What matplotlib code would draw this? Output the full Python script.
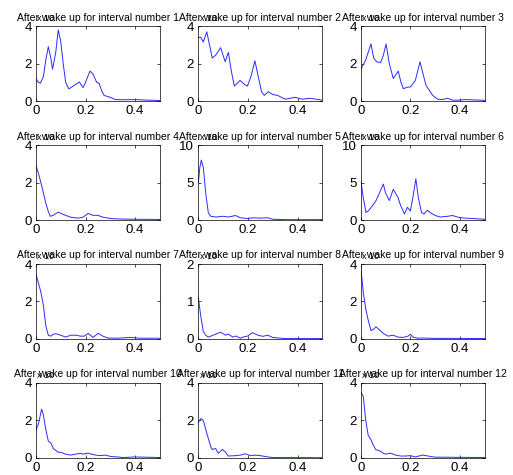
import matplotlib
matplotlib.use("Agg")
import matplotlib.pyplot as plt

# ==========================================
# Data (values in units of the "x 10" scale)
# ==========================================

p1_x = [0, 0.01, 0.018, 0.03, 0.04, 0.05, 0.06, 0.067, 0.08, 0.09, 0.10, 0.11, 0.12, 0.133, 0.15, 0.175, 0.19, 0.20, 0.218, 0.23,
        0.245, 0.255, 0.265, 0.275, 0.30, 0.32, 0.35, 0.40, 0.45, 0.50]
p1_y = [1.2, 1.0, 0.95, 1.3, 2.2, 2.9, 2.3, 1.7, 2.6, 3.8, 3.2, 2.0, 1.0, 0.65, 0.8, 1.02, 0.72, 1.0, 1.6, 1.45,
        1.0, 0.95, 0.55, 0.3, 0.2, 0.08, 0.07, 0.08, 0.05, 0.03]

p2_x = [0, 0.01, 0.02, 0.034, 0.045, 0.056, 0.07, 0.09, 0.108, 0.121, 0.133, 0.145, 0.168, 0.185, 0.198, 0.212, 0.228, 0.24, 0.255, 0.266,
        0.282, 0.30, 0.32, 0.35, 0.39, 0.42, 0.45, 0.50]
p2_y = [3.4, 3.4, 3.15, 3.7, 3.0, 2.3, 2.45, 2.85, 2.1, 2.6, 1.6, 0.8, 1.1, 0.9, 0.8, 1.3, 2.15, 1.4, 0.5, 0.3,
        0.5, 0.35, 0.3, 0.1, 0.2, 0.1, 0.15, 0.05]

p3_x = [0, 0.02, 0.03, 0.041, 0.052, 0.064, 0.08, 0.09, 0.102, 0.115, 0.131, 0.151, 0.162, 0.172, 0.19, 0.20, 0.22, 0.239, 0.25, 0.263,
        0.275, 0.29, 0.31, 0.33, 0.35, 0.37, 0.40, 0.42, 0.50]
p3_y = [1.7, 2.2, 2.6, 3.05, 2.3, 2.1, 2.05, 2.4, 3.05, 2.0, 1.2, 1.6, 1.0, 0.66, 0.75, 0.75, 1.1, 2.1, 1.5, 0.84,
        0.6, 0.3, 0.1, 0.08, 0.15, 0.05, 0.05, 0.08, 0.04]

p4_x = [0, 0.01, 0.02, 0.03, 0.04, 0.05, 0.058, 0.07, 0.09, 0.11, 0.14, 0.17, 0.19, 0.21, 0.23, 0.25, 0.27, 0.30, 0.35, 0.40, 0.50]
p4_y = [2.9, 2.5, 2.0, 1.46, 0.9, 0.45, 0.2, 0.25, 0.42, 0.3, 0.15, 0.1, 0.15, 0.35, 0.25, 0.25, 0.15, 0.08, 0.05, 0.04, 0.03]

p5_x = [0, 0.006, 0.012, 0.02, 0.03, 0.04, 0.05, 0.07, 0.10, 0.12, 0.15, 0.17, 0.20, 0.22, 0.25, 0.28, 0.30, 0.35, 0.50]
p5_y = [5.0, 7.0, 8.0, 7.0, 3.5, 1.0, 0.5, 0.4, 0.5, 0.4, 0.6, 0.3, 0.2, 0.3, 0.25, 0.3, 0.1, 0.05, 0.05]

p6_x = [0, 0.01, 0.021, 0.03, 0.04, 0.06, 0.07, 0.091, 0.10, 0.115, 0.131, 0.15, 0.16, 0.176, 0.188, 0.20, 0.21, 0.222, 0.232, 0.245,
        0.255, 0.268, 0.28, 0.30, 0.32, 0.35, 0.37, 0.40, 0.45, 0.50]
p6_y = [5.3, 3.0, 1.0, 1.2, 1.6, 2.5, 3.2, 4.8, 3.6, 2.6, 4.1, 3.0, 2.0, 0.8, 1.7, 1.2, 3.0, 5.5, 3.0, 1.0,
        0.8, 1.3, 1.0, 0.6, 0.4, 0.5, 0.6, 0.3, 0.2, 0.1]

p7_x = [0, 0.01, 0.02, 0.03, 0.04, 0.05, 0.06, 0.07, 0.08, 0.10, 0.12, 0.14, 0.16, 0.18, 0.195, 0.211, 0.23, 0.251, 0.27, 0.29,
        0.33, 0.38, 0.42, 0.50]
p7_y = [3.45, 3.0, 2.5, 1.8, 0.7, 0.2, 0.15, 0.25, 0.28, 0.2, 0.1, 0.2, 0.2, 0.15, 0.15, 0.3, 0.08, 0.3, 0.15, 0.05,
        0.04, 0.08, 0.04, 0.04]

p8_x = [0, 0.01, 0.02, 0.03, 0.04, 0.06, 0.07, 0.09, 0.11, 0.12, 0.14, 0.15, 0.17, 0.18, 0.20, 0.218, 0.24, 0.26, 0.28, 0.30, 0.35, 0.50]
p8_y = [1.1, 0.6, 0.2, 0.1, 0.05, 0.1, 0.13, 0.18, 0.1, 0.13, 0.05, 0.08, 0.02, 0.05, 0.08, 0.17, 0.1, 0.07, 0.1, 0.04, 0.01, 0.01]

p9_x = [0, 0.01, 0.02, 0.03, 0.041, 0.05, 0.061, 0.07, 0.09, 0.11, 0.13, 0.15, 0.17, 0.19, 0.20, 0.21, 0.23, 0.25, 0.30, 0.40, 0.50]
p9_y = [3.8, 2.5, 1.6, 1.0, 0.45, 0.5, 0.65, 0.55, 0.3, 0.15, 0.2, 0.1, 0.08, 0.15, 0.25, 0.1, 0.04, 0.05, 0.03, 0.03, 0.02]

p10_x = [0, 0.01, 0.023, 0.03, 0.04, 0.05, 0.06, 0.07, 0.09, 0.10, 0.12, 0.14, 0.16, 0.18, 0.19, 0.21, 0.24, 0.26, 0.28, 0.30,
         0.33, 0.35, 0.40, 0.50]
p10_y = [1.5, 1.8, 2.6, 2.3, 1.5, 0.9, 0.8, 0.5, 0.3, 0.3, 0.2, 0.15, 0.2, 0.25, 0.2, 0.25, 0.15, 0.12, 0.15, 0.08,
         0.05, 0.02, 0.05, 0.02]

p11_x = [0, 0.01, 0.02, 0.03, 0.05, 0.056, 0.07, 0.08, 0.097, 0.11, 0.12, 0.15, 0.17, 0.19, 0.21, 0.23, 0.25, 0.28, 0.30, 0.50]
p11_y = [1.9, 2.1, 2.0, 1.5, 0.6, 0.45, 0.5, 0.25, 0.45, 0.3, 0.1, 0.12, 0.15, 0.22, 0.12, 0.15, 0.12, 0.05, 0.02, 0.01]

p12_x = [0, 0.01, 0.02, 0.03, 0.04, 0.05, 0.06, 0.07, 0.08, 0.09, 0.10, 0.12, 0.14, 0.16, 0.18, 0.20, 0.22, 0.24, 0.25, 0.28,
         0.30, 0.50]
p12_y = [3.5, 3.3, 2.0, 1.2, 1.0, 0.7, 0.45, 0.4, 0.35, 0.25, 0.2, 0.25, 0.15, 0.1, 0.1, 0.12, 0.05, 0.12, 0.15, 0.08,
         0.04, 0.02]

series_x = [p1_x, p2_x, p3_x, p4_x, p5_x, p6_x, p7_x, p8_x, p9_x, p10_x, p11_x, p12_x]
series_y = [p1_y, p2_y, p3_y, p4_y, p5_y, p6_y, p7_y, p8_y, p9_y, p10_y, p11_y, p12_y]
y_max = [4, 4, 4, 4, 10, 10, 4, 2, 4, 4, 4, 4]
x_ticks = [0, 0.2, 0.4]
x_ticklabels = ["0", "0.2", "0.4"]

# ==========================================
# Figure
# ==========================================

plt.rcParams["font.family"] = ["Liberation Sans", "DejaVu Sans"]

fig, axes = plt.subplots(4, 3, figsize=(5.13, 4.75), dpi=100)
fig.patch.set_facecolor("white")
fig.subplots_adjust(left=0.070, right=0.945, top=0.945, bottom=0.036, wspace=0.31, hspace=0.587)

for i, ax in enumerate(axes.flat):
    ax.plot(series_x[i], series_y[i], color="#2b2bff", linewidth=0.7)
    ax.set_xlim(0, 0.5)
    ax.set_ylim(0, y_max[i])
    ax.set_xticks(x_ticks)
    ax.set_xticklabels(x_ticklabels)
    ym = y_max[i]
    ax.set_yticks([0, ym / 2, ym])
    ax.set_yticklabels([f"{v:g}" for v in [0, ym / 2, ym]])
    ax.tick_params(direction="in", length=2.5, width=0.5, top=True, right=True,
                   labelsize=9.5, pad=3, colors="black")
    for sp in ax.spines.values():
        sp.set_linewidth(0.5)
        sp.set_color("black")
    # exponent label MATLAB-style (superscript hidden under the title)
    ax.text(0.01, 1.04, "x 10", transform=ax.transAxes, fontsize=6.5, ha="left", va="bottom")
    ax.set_title(f"After wake up for interval number {i + 1}", fontsize=7.5, pad=4)

plt.savefig("out.png", dpi=100, facecolor="white")
plt.close()
